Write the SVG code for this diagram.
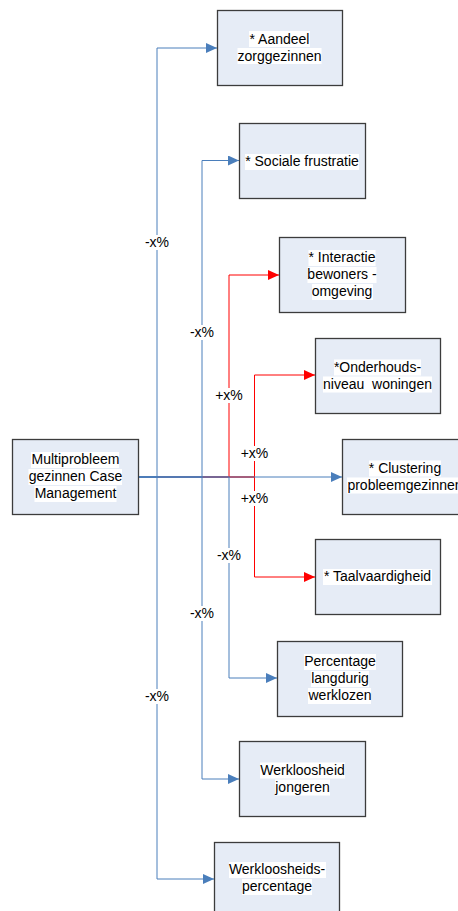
<svg xmlns="http://www.w3.org/2000/svg" width="458" height="911" viewBox="0 0 458 911">
<defs>
<style>
.box{fill:#e6ecf6;stroke:#3c3c3c;stroke-width:1.3}
.hl{fill:#ffffff}
.t{font-family:"Liberation Sans",Arial,sans-serif;font-size:14px;fill:#000;text-anchor:middle}
.pre{white-space:pre}
.cb{fill:none;stroke:#4a7ebb;stroke-width:1}
.cr{fill:none;stroke:#ff0000;stroke-width:1}
.lb{fill:#ffffff}
</style>
<marker id="ab" markerUnits="userSpaceOnUse" markerWidth="12" markerHeight="10" refX="11" refY="5" orient="auto"><path d="M0,0 L11,5 L0,10 z" fill="#4a7ebb"/></marker>
<marker id="ar" markerUnits="userSpaceOnUse" markerWidth="12" markerHeight="10" refX="11" refY="5" orient="auto"><path d="M0,0 L11,5 L0,10 z" fill="#ff0000"/></marker>
</defs>
<rect width="458" height="911" fill="#ffffff"/>
<g id="connectors">
<path class="cr" d="M139 477 H229 V275 H279" marker-end="url(#ar)"/>
<path class="cr" d="M139 477 H254.5 V375 H315" marker-end="url(#ar)"/>
<path class="cr" d="M139 477 H254.5 V577 H315" marker-end="url(#ar)"/>
<path class="cb" d="M139 477 H157 V48 H217" marker-end="url(#ab)"/>
<path class="cb" d="M139 477 H202 V160.5 H239" marker-end="url(#ab)"/>
<path class="cb" d="M139 477 H342" marker-end="url(#ab)"/>
<path class="cb" d="M139 477 H229 V678 H277" marker-end="url(#ab)"/>
<path class="cb" d="M139 477 H202 V779 H239" marker-end="url(#ab)"/>
<path class="cb" d="M139 477 H157 V879 H214" marker-end="url(#ab)"/>
<g id="labels">
<rect class="lb" x="145" y="235" width="24" height="15"/><text class="t" x="157" y="247">-x%</text>
<rect class="lb" x="190" y="325" width="24" height="15"/><text class="t" x="202" y="337">-x%</text>
<rect class="lb" x="214" y="388" width="29" height="15"/><text class="t" x="229" y="400">+x%</text>
<rect class="lb" x="240" y="446" width="29" height="15"/><text class="t" x="254.5" y="458">+x%</text>
<rect class="lb" x="240" y="491" width="29" height="15"/><text class="t" x="254.5" y="503">+x%</text>
<rect class="lb" x="217" y="548" width="24" height="15"/><text class="t" x="229" y="560">-x%</text>
<rect class="lb" x="190" y="606" width="24" height="15"/><text class="t" x="202" y="618">-x%</text>
<rect class="lb" x="145" y="689" width="24" height="15"/><text class="t" x="157" y="701">-x%</text>
</g>
</g>
<g id="n0">
<rect class="box" x="12.5" y="439.5" width="126" height="75"/>
<rect class="hl" x="31" y="452" width="88" height="16"/>
<rect class="hl" x="28.5" y="469" width="93.5" height="16"/>
<rect class="hl" x="34.5" y="486" width="82" height="16"/>
<text class="t" x="75.5" y="464">Multiprobleem</text>
<text class="t" x="75.5" y="481">gezinnen Case</text>
<text class="t" x="75.5" y="498">Management</text>
</g>
<g id="n1">
<rect class="box" x="217.5" y="10.5" width="125" height="75"/>
<rect class="hl" x="249" y="31" width="61" height="16"/>
<rect class="hl" x="237.5" y="48" width="84" height="16"/>
<text class="t" x="279.5" y="43.5">* Aandeel</text>
<text class="t" x="279.5" y="60.5">zorggezinnen</text>
</g>
<g id="n2">
<rect class="box" x="239.5" y="123.5" width="126" height="75"/>
<rect class="hl" x="245" y="154" width="114" height="16"/>
<text class="t" x="302" y="166">* Sociale frustratie</text>
</g>
<g id="n3">
<rect class="box" x="279.5" y="237.5" width="126" height="75"/>
<rect class="hl" x="308.5" y="250" width="67" height="16"/>
<rect class="hl" x="307.5" y="267" width="69" height="16"/>
<rect class="hl" x="312" y="284" width="61" height="16"/>
<text class="t" x="342" y="262">* Interactie</text>
<text class="t" x="342" y="279">bewoners -</text>
<text class="t" x="342" y="296">omgeving</text>
</g>
<g id="n4">
<rect class="box" x="315.5" y="338.5" width="125" height="75"/>
<rect class="hl" x="334" y="359.5" width="87" height="16"/>
<rect class="hl" x="323" y="376.5" width="109" height="16"/>
<text class="t" x="377.5" y="371.5">*Onderhouds-</text>
<text class="t pre" x="377.5" y="388.5" xml:space="preserve">niveau  woningen</text>
</g>
<g id="n5">
<rect class="box" x="342.5" y="439.5" width="126" height="75"/>
<rect class="hl" x="369" y="460.5" width="72" height="16"/>
<rect class="hl" x="347" y="477.5" width="115" height="16"/>
<text class="t" x="405" y="472.5">* Clustering</text>
<text class="t" x="405" y="489.5">probleemgezinnen</text>
</g>
<g id="n6">
<rect class="box" x="315.5" y="539.5" width="125" height="75"/>
<rect class="hl" x="323" y="569" width="109" height="16"/>
<text class="t" x="377.5" y="581">* Taalvaardigheid</text>
</g>
<g id="n7">
<rect class="box" x="277.5" y="641.5" width="125" height="75"/>
<rect class="hl" x="304" y="654" width="72" height="16"/>
<rect class="hl" x="311" y="671" width="58" height="16"/>
<rect class="hl" x="308" y="688" width="63" height="16"/>
<text class="t" x="340" y="666">Percentage</text>
<text class="t" x="340" y="683">langdurig</text>
<text class="t" x="340" y="700">werklozen</text>
</g>
<g id="n8">
<rect class="box" x="239.5" y="741.5" width="126" height="75"/>
<rect class="hl" x="260" y="762.5" width="85" height="16"/>
<rect class="hl" x="275" y="779.5" width="55" height="16"/>
<text class="t" x="302.5" y="774.5">Werkloosheid</text>
<text class="t" x="302.5" y="791.5">jongeren</text>
</g>
<g id="n9">
<rect class="box" x="214.5" y="842.5" width="125" height="75"/>
<rect class="hl" x="229" y="862" width="97" height="16"/>
<rect class="hl" x="242" y="879" width="70" height="16"/>
<text class="t" x="277" y="874">Werkloosheids-</text>
<text class="t" x="277" y="891">percentage</text>
</g>
</svg>
